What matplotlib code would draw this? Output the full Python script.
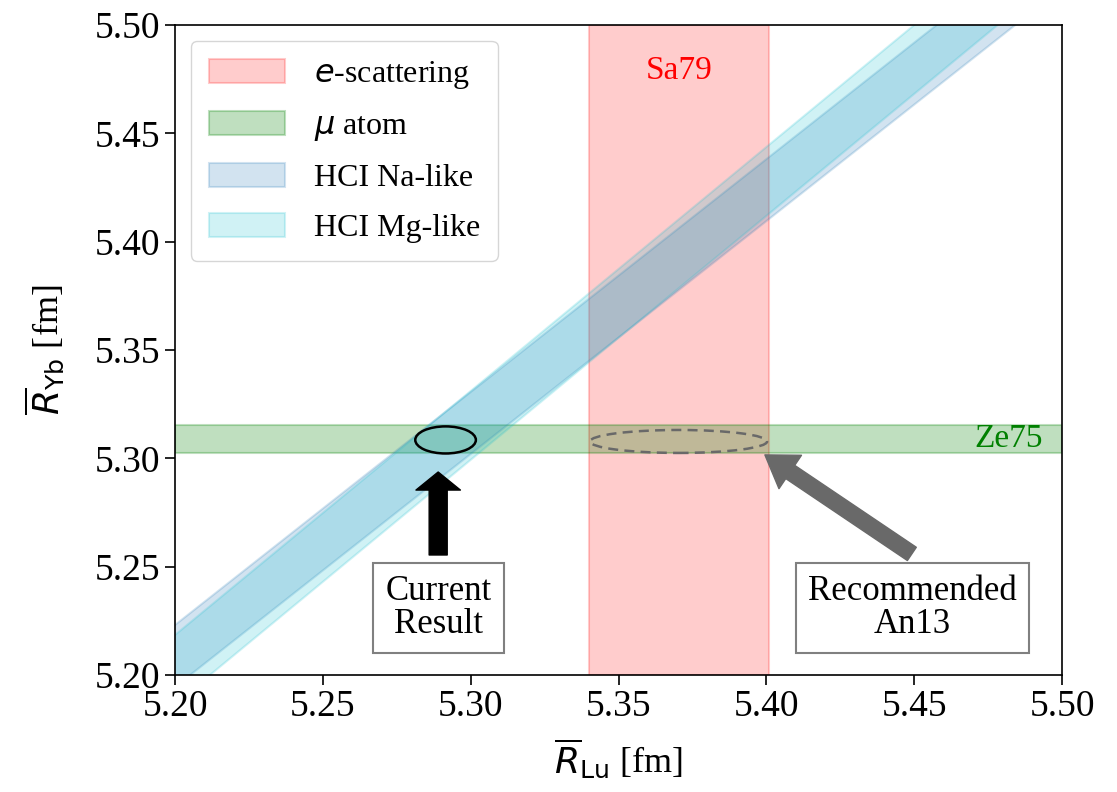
import numpy as np
import matplotlib
matplotlib.use("Agg")
import matplotlib.pyplot as plt
from matplotlib.patches import Ellipse

plt.rcParams['font.family'] = 'serif'
plt.rcParams['font.serif'] = ['Liberation Serif', 'DejaVu Serif']
plt.rcParams['mathtext.fontset'] = 'dejavusans'

# axis window [fm]
r_min, r_max = 5.20, 5.50

# electron scattering (Sa79): range of R_Lu
escat_lu = [5.340, 5.401]
# muonic atom (Ze75): range of R_Yb
muatom_yb = [5.3025, 5.3155]

# HCI bands: R_Yb = y0 + slope * (R_Lu - 5.2) +/- half width
hci_labels = ['HCI Na-like', 'HCI Mg-like']
hci_y0 = [5.2088, 5.2026]
hci_slope = [1.075, 1.126]
hci_halfwidth = [0.0143, 0.0159]
hci_colors = ['tab:blue', 'tab:cyan']

# results: centre (R_Lu, R_Yb) and full widths of the ellipses
current_res = (5.2915, 5.3085)
current_size = (0.0205, 0.0125)
an13_res = (5.3703, 5.3078)
an13_size = (0.0599, 0.0106)

fig, ax = plt.subplots(figsize=(11.17, 7.92), dpi=100)
fig.subplots_adjust(left=0.1567, right=0.9508, bottom=0.1477, top=0.9684)

ax.axvspan(escat_lu[0], escat_lu[1], color='red', alpha=0.2, lw=1.5,
           label='$e$-scattering')
ax.axhspan(muatom_yb[0], muatom_yb[1], color='green', alpha=0.25, lw=1.5,
           label=r'$\mu$ atom')

x = np.linspace(r_min - 0.05, r_max + 0.05, 200)
for lab, y0, k, hw, c in zip(hci_labels, hci_y0, hci_slope, hci_halfwidth, hci_colors):
    yc = y0 + k * (x - 5.2)
    ax.fill_between(x, yc - hw, yc + hw, color=c, alpha=0.2, lw=1.5, label=lab)

ax.add_patch(Ellipse(current_res, current_size[0], current_size[1],
                     fill=False, ec='black', lw=1.8, zorder=5))
ax.add_patch(Ellipse(an13_res, an13_size[0], an13_size[1],
                     fill=False, ec='dimgray', lw=1.8, ls=(0, (4, 2.5)), zorder=5))

ax.text(0.5 * (escat_lu[0] + escat_lu[1]), 5.479, 'Sa79', color='red',
        fontsize=24, ha='center', va='center')
ax.text(5.482, 0.5 * (muatom_yb[0] + muatom_yb[1]), 'Ze75', color='green',
        fontsize=24, ha='center', va='center')

box = dict(boxstyle='square,pad=0.35', fc='white', ec='gray', lw=1.5)
ax.annotate('', xy=(5.289, 5.2937), xytext=(5.289, 5.2554),
            arrowprops=dict(arrowstyle='simple,head_length=13,head_width=32,tail_width=13',
                            mutation_scale=1, color='black', shrinkA=0, shrinkB=0))
ax.text(5.2891, 5.2309, 'Current\nResult', fontsize=25, ha='center', va='center',
        bbox=box, linespacing=1.0)
ax.annotate('', xy=(5.3995, 5.3016), xytext=(5.4492, 5.2559),
            arrowprops=dict(arrowstyle='simple,head_length=22,head_width=29,tail_width=11.5',
                            mutation_scale=1, color='dimgray', shrinkA=0, shrinkB=0))
ax.text(5.4494, 5.2309, 'Recommended\nAn13', fontsize=25, ha='center', va='center',
        bbox=box, linespacing=1.0)

ax.set_xlim(r_min, r_max)
ax.set_ylim(r_min, r_max)
ticks = np.arange(5.20, 5.501, 0.05)
ax.set_xticks(ticks)
ax.set_yticks(ticks)
ax.tick_params(labelsize=27, length=7, width=1.2)
for s in ax.spines.values():
    s.set_linewidth(1.2)
ax.set_xlabel(r'$\overline{R}_{\rm Lu}$ [fm]', fontsize=26, labelpad=9)
ax.set_ylabel(r'$\overline{R}_{\rm Yb}$ [fm]', fontsize=26, labelpad=20)

ax.legend(loc='upper left', fontsize=23, handlelength=2.4, handleheight=0.8,
          handletextpad=0.9, labelspacing=0.62, borderpad=0.55)

fig.savefig('out.png', dpi=100)
